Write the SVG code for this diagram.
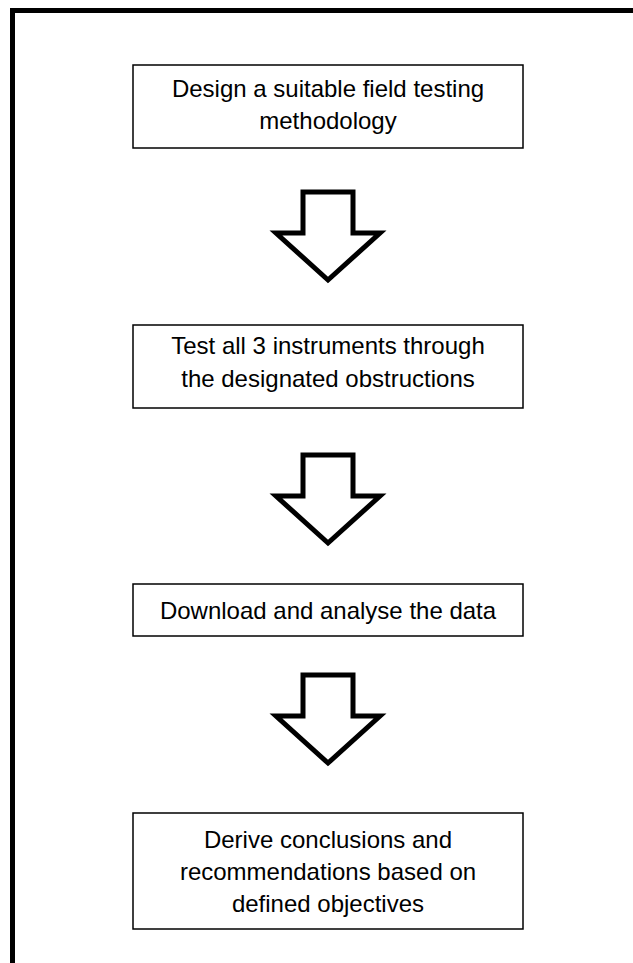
<svg xmlns="http://www.w3.org/2000/svg" width="633" height="963" viewBox="0 0 633 963">
<style>
.box{fill:#fff;stroke:#000;stroke-width:1.5}
.arrow{fill:#fff;stroke:#000;stroke-width:5;stroke-linejoin:miter;stroke-miterlimit:10}
.t{font-family:"Liberation Sans",Arial,sans-serif;font-size:24px;fill:#000;text-anchor:middle}
</style>
<rect x="0" y="0" width="633" height="963" fill="#fff"/>
<rect id="frame" x="12.5" y="10.5" width="632" height="1000" fill="none" stroke="#000" stroke-width="5"/>
<g id="connectors">
<polygon class="arrow" points="303,192 353,192 353,233 380,233 328,280 276,233 303,233"/>
<polygon class="arrow" points="303,455 353,455 353,496 380,496 328,543 276,496 303,496"/>
<polygon class="arrow" points="303,675 353,675 353,716 380,716 328,763 276,716 303,716"/>
</g>
<g id="n1">
<rect class="box" x="133" y="65" width="390" height="83"/>
<text class="t" x="328" y="97">Design a suitable field testing</text>
<text class="t" x="328" y="129">methodology</text>
</g>
<g id="n2">
<rect class="box" x="133" y="325" width="390" height="83"/>
<text class="t" x="328" y="354">Test all 3 instruments through</text>
<text class="t" x="328" y="387">the designated obstructions</text>
</g>
<g id="n3">
<rect class="box" x="133" y="584" width="390" height="52"/>
<text class="t" x="328" y="619">Download and analyse the data</text>
</g>
<g id="n4">
<rect class="box" x="133" y="813" width="390" height="116"/>
<text class="t" x="328" y="848">Derive conclusions and</text>
<text class="t" x="328" y="880">recommendations based on</text>
<text class="t" x="328" y="912">defined objectives</text>
</g>
</svg>
